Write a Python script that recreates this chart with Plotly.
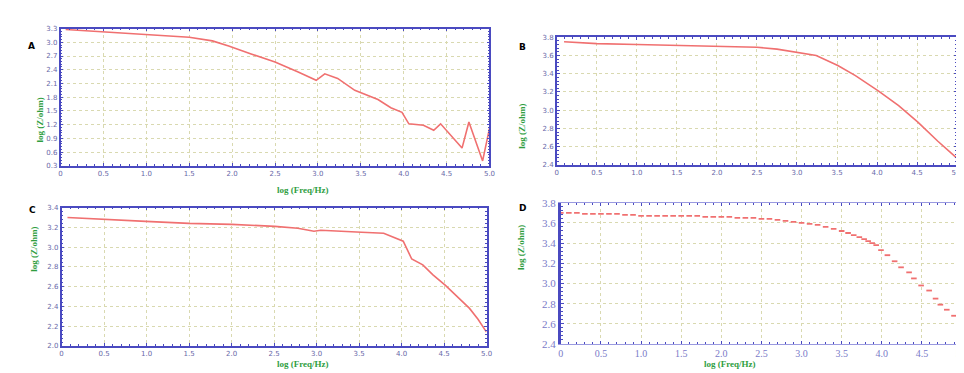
import plotly.graph_objects as go

# ---------------- data ----------------
A_x = [0.06, 0.5, 1.0, 1.5, 1.77, 1.96, 2.23, 2.5, 2.77, 2.98, 3.08, 3.23, 3.43, 3.7, 3.85,
       3.98, 4.06, 4.23, 4.35, 4.43, 4.68, 4.76, 4.92, 5.0]
A_y = [3.28, 3.23, 3.18, 3.11, 3.03, 2.92, 2.74, 2.57, 2.35, 2.17, 2.31, 2.21, 1.95, 1.75, 1.57,
       1.47, 1.22, 1.19, 1.08, 1.22, 0.69, 1.26, 0.41, 1.12]

B_x = [0.09, 0.5, 1.0, 1.5, 2.0, 2.5, 2.75, 3.05, 3.24, 3.51, 3.73, 4.02, 4.27, 4.51, 4.76, 4.99]
B_y = [3.75, 3.73, 3.72, 3.71, 3.70, 3.69, 3.67, 3.63, 3.60, 3.49, 3.38, 3.21, 3.05, 2.87, 2.66, 2.48]

C_x = [0.07, 0.49, 0.99, 1.5, 2.0, 2.51, 2.78, 2.97, 3.05, 3.53, 3.79, 4.02, 4.12, 4.25, 4.37,
       4.52, 4.64, 4.8, 4.9, 5.0]
C_y = [3.30, 3.28, 3.26, 3.24, 3.23, 3.21, 3.19, 3.16, 3.17, 3.15, 3.14, 3.06, 2.88, 2.82, 2.72,
       2.61, 2.51, 2.38, 2.27, 2.14]

D_x = [0.0, 0.1, 0.2, 0.3, 0.4, 0.5, 0.6, 0.7, 0.8, 0.9, 1.0, 1.1, 1.2, 1.3, 1.4, 1.5, 1.6, 1.7,
       1.8, 1.9, 2.0, 2.1, 2.2, 2.3, 2.4, 2.5, 2.6, 2.7, 2.8, 2.9, 3.0, 3.1, 3.2, 3.3, 3.4, 3.5,
       3.58, 3.65, 3.72, 3.78, 3.83, 3.88, 3.93, 3.99, 4.07, 4.16, 4.24, 4.34, 4.4, 4.49, 4.59,
       4.67, 4.73, 4.81, 4.9, 4.98]
D_y = [3.70, 3.70, 3.70, 3.69, 3.69, 3.69, 3.69, 3.69, 3.68, 3.68, 3.67, 3.67, 3.67, 3.67, 3.67,
       3.67, 3.67, 3.67, 3.66, 3.66, 3.66, 3.66, 3.65, 3.65, 3.65, 3.64, 3.64, 3.63, 3.62, 3.61,
       3.60, 3.59, 3.58, 3.56, 3.54, 3.52, 3.50, 3.48, 3.46, 3.44, 3.42, 3.40, 3.38, 3.33, 3.28,
       3.22, 3.16, 3.11, 3.05, 2.98, 2.93, 2.85, 2.79, 2.74, 2.68, 2.63]

x_tickvals = [0, 0.5, 1.0, 1.5, 2.0, 2.5, 3.0, 3.5, 4.0, 4.5, 5.0]
x_ticktext = ["0", "0.5", "1.0", "1.5", "2.0", "2.5", "3.0", "3.5", "4.0", "4.5", "5.0"]
A_yticks = [0.3, 0.6, 0.9, 1.2, 1.5, 1.8, 2.1, 2.4, 2.7, 3.0, 3.3]
BD_yticks = [2.4, 2.6, 2.8, 3.0, 3.2, 3.4, 3.6, 3.8]
C_yticks = [2.0, 2.2, 2.4, 2.6, 2.8, 3.0, 3.2, 3.4]
panel_letters = ["A", "B", "C", "D"]
y_title = "log (Z/ohm)"
x_title = "log (Freq/Hz)"

# ---------------- style ----------------
W, H = 964, 373
AX = "#4a4ac0"
GRID = "#d9d9b0"
LINE = "#f07070"
GREEN = "#2f9e3f"
TICKF = dict(family="DejaVu Sans", size=7, color="#6868a8")
SERIF = dict(family="Liberation Serif", size=11, color="#7a7ac8")
SERIFX = dict(family="Liberation Serif", size=10, color="#7a7ac8")


def px(x0, x1):
    return [x0 / W, x1 / W]


def py(y_top, y_bot):
    return [1 - y_bot / H, 1 - y_top / H]


def xaxis(dom, anchor, font=TICKF, width=1.5):
    return dict(domain=dom, anchor=anchor, range=[0, 5.0], tickvals=x_tickvals,
                ticktext=x_ticktext, showline=True, mirror="ticks", linecolor=AX,
                linewidth=width, ticks="inside", ticklen=3, tickcolor=AX,
                showgrid=True, gridcolor=GRID, griddash="dot", gridwidth=1,
                zeroline=False, tickfont=font,
                minor=dict(dtick=0.1, ticks="inside", ticklen=2, tickcolor=AX, showgrid=False))


def yaxis(dom, anchor, rng, vals, minor_dtick, fmt, font=TICKF, width=1.5):
    return dict(domain=dom, anchor=anchor, range=rng, tickvals=vals,
                ticktext=[fmt.format(v) for v in vals], showline=True, mirror="ticks",
                linecolor=AX, linewidth=width, ticks="inside", ticklen=3, tickcolor=AX,
                showgrid=True, gridcolor=GRID, griddash="dot", gridwidth=1,
                zeroline=False, tickfont=font,
                minor=dict(dtick=minor_dtick, ticks="inside", ticklen=2, tickcolor=AX,
                           showgrid=False))


fig = go.Figure()
fig.add_trace(go.Scatter(x=A_x, y=A_y, mode="lines", line=dict(color=LINE, width=1.6),
                         xaxis="x", yaxis="y"))
fig.add_trace(go.Scatter(x=B_x, y=B_y, mode="lines", line=dict(color=LINE, width=1.6),
                         xaxis="x2", yaxis="y2"))
fig.add_trace(go.Scatter(x=C_x, y=C_y, mode="lines", line=dict(color=LINE, width=1.6),
                         xaxis="x3", yaxis="y3"))
fig.add_trace(go.Scatter(x=D_x, y=D_y, mode="markers",
                         marker=dict(symbol="line-ew", size=4, color=LINE,
                                     line=dict(color=LINE, width=1.8)),
                         xaxis="x4", yaxis="y4"))

dA = (px(50, 483), py(15, 157))
dB = (px(551, 955), py(24, 156))
dC = (px(51, 480), py(200, 343))
dD = (px(555, 960), py(195, 341))

fig.update_layout(
    width=W, height=H, margin=dict(l=0, r=0, t=0, b=0),
    paper_bgcolor="white", plot_bgcolor="white", showlegend=False,
    xaxis=xaxis(dA[0], "y"),
    yaxis=yaxis(dA[1], "x", [0.3, 3.3], A_yticks, 0.06, "{:.1f}"),
    xaxis2=xaxis(dB[0], "y2"),
    yaxis2=yaxis(dB[1], "x2", [2.4, 3.8], BD_yticks, 0.04, "{:.1f}"),
    xaxis3=xaxis(dC[0], "y3"),
    yaxis3=yaxis(dC[1], "x3", [2.0, 3.4], C_yticks, 0.04, "{:.1f}"),
    xaxis4=xaxis(dD[0], "y4", font=SERIFX, width=1),
    yaxis4=yaxis(dD[1], "x4", [2.4, 3.8], BD_yticks, 0.04, "{:.1f}", font=SERIF, width=2.5),
)
fig.update_layout(xaxis4=dict(linecolor="#9a9ae0"))

ann = []
letter_pos = [(15, 26), (516, 27), (16, 202), (516, 200)]
for t, (lx, ly) in zip(panel_letters, letter_pos):
    ann.append(dict(text="<b>%s</b>" % t, x=lx / W, y=1 - ly / H, xref="paper", yref="paper",
                    showarrow=False, font=dict(family="DejaVu Sans", size=9, color="black")))
ytitle_pos = [(22, 84), (515, 91), (16, 268), (515, 267)]
for (lx, ly) in ytitle_pos:
    ann.append(dict(text="<b>%s</b>" % y_title, x=lx / W, y=1 - ly / H, xref="paper",
                    yref="paper", showarrow=False, textangle=-90,
                    font=dict(family="Liberation Serif", size=9, color=GREEN)))
xtitle_pos = [(267, 182), (267, 368), (753, 368)]
for (lx, ly) in xtitle_pos:
    ann.append(dict(text="<b>%s</b>" % x_title, x=lx / W, y=1 - ly / H, xref="paper",
                    yref="paper", showarrow=False, borderpad=0,
                    font=dict(family="Liberation Serif", size=9, color=GREEN)))
fig.update_layout(annotations=ann)

fig.write_html("out.html")
